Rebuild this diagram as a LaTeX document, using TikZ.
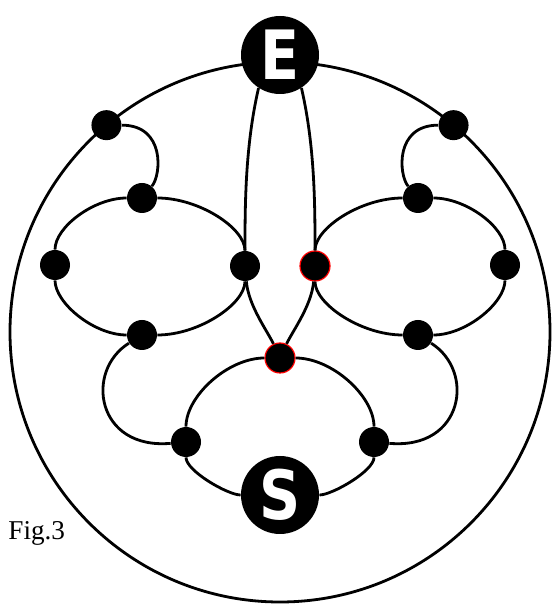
\documentclass[tikz,border=0pt]{standalone}
\usepackage{fontspec}
\setmainfont{Liberation Serif}
\newfontfamily\lettfont{DejaVu Sans}
\usetikzlibrary{calc}

\begin{document}
\begin{tikzpicture}[
      x=0.5pt, y=0.5pt,
      wire/.style={line width=1.4pt},
      dot/.style={circle, fill=black, inner sep=0pt, minimum size=15pt},
      hotdot/.style={dot, draw=red, line width=0.6pt},
      term/.style={circle, fill=black, inner sep=0pt, minimum size=39pt, text=white,
        font=\lettfont\bfseries\fontsize{34pt}{34pt}\selectfont}
    ]
    \useasboundingbox (0,0) rectangle (555,605);
    \coordinate (ctr) at (280,273);
    \draw[wire] (ctr) circle[radius=270];

    \node[term] (E) at (280,550) {\scalebox{0.84}[1]{E}};
    \node[term] (S) at (280,110) {\scalebox{0.84}[1]{S}};
    \node[dot] (L1) at ($(ctr)+(130:270)$) {};
    \node[dot] (R1) at ($(ctr)+(50:270)$) {};
    \node[dot] (L2) at (142,407) {};
    \node[dot] (R2) at (418,407) {};
    \node[dot] (L3) at (55,340) {};
    \node[dot] (R3) at (505,340) {};
    \node[dot] (L4) at (245,339) {};
    \node[hotdot] (R4) at (315,339) {};
    \node[dot] (L5) at (142,270) {};
    \node[dot] (R5) at (418,270) {};
    \node[dot] (L6) at (186,163) {};
    \node[dot] (R6) at (374,163) {};
    \node[hotdot] (M) at (280,247) {};
    \node[anchor=base west, inner sep=0pt, font=\fontsize{13.6pt}{16pt}\selectfont] (fig) at (8,65) {Fig.3};

    \draw[wire] (L2) .. controls +(0:57) and +(90:38) .. (L4);
    \draw[wire] (L4) .. controls +(-90:38) and +(0:57) .. (L5);
    \draw[wire] (L5) .. controls +(180:48) and +(-90:38) .. (L3);
    \draw[wire] (L3) .. controls +(90:38) and +(180:48) .. (L2);
    \draw[wire] (R2) .. controls +(180:57) and +(90:38) .. (R4);
    \draw[wire] (R4) .. controls +(-90:38) and +(180:57) .. (R5);
    \draw[wire] (R5) .. controls +(0:48) and +(-90:38) .. (R3);
    \draw[wire] (R3) .. controls +(90:38) and +(0:48) .. (R2);

    \draw[wire] (L1) .. controls +(0:59) and +(50:30) .. (L2);
    \draw[wire] (R1) .. controls +(180:59) and +(130:30) .. (R2);
    \draw[wire] (L5) .. controls +(212:68) and +(185:90) .. (L6);
    \draw[wire] (R5) .. controls +(-32:68) and +(-5:90) .. (R6);

    \draw[wire] (E.237) .. controls +(257:60) and +(90:60) .. (L4);
    \draw[wire] (E.303) .. controls +(283:60) and +(90:60) .. (R4);
    \draw[wire] (L4) .. controls +(-85:40) and +(115:30) .. (M);
    \draw[wire] (R4) .. controls +(-95:40) and +(65:30) .. (M);

    \draw[wire] (L6) .. controls +(90:46) and +(180:52) .. (M);
    \draw[wire] (M) .. controls +(0:52) and +(90:46) .. (R6);
    \draw[wire] (R6) .. controls +(-90:29) and +(0:52) .. (S);
    \draw[wire] (S) .. controls +(180:52) and +(-90:29) .. (L6);
  \end{tikzpicture}
\end{document}
